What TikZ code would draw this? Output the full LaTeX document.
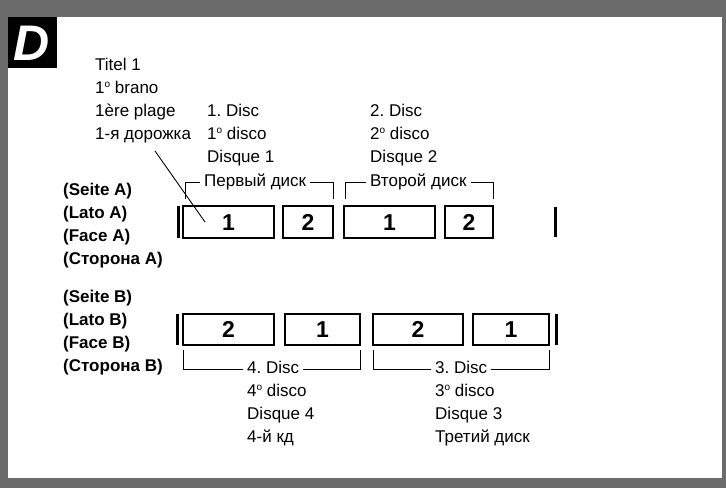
\documentclass[tikz,border=0pt]{standalone}
\usepackage{fontspec}
\setmainfont{Liberation Sans}
\frenchspacing
\newcommand\supo{\raisebox{0.62ex}{\fontsize{10}{10}\selectfont o}}
\begin{document}
\begin{tikzpicture}[x=1pt,y=-1pt,
  lbl/.style={anchor=base west, inner sep=0pt, font=\fontsize{17}{20}\selectfont},
  side/.style={anchor=base west, inner sep=0pt, font=\fontsize{17}{20}\selectfont\bfseries},
  trk/.style={draw, line width=1.1pt, inner sep=0pt, text height=16.5pt, text depth=0pt,
    font=\fontsize{23}{26}\selectfont\bfseries},
  bar/.style={line width=3pt},
  brk/.style={line width=0.9pt},
  frame/.style={fill=black!58}]
\useasboundingbox (0,0) rectangle (726,488);
% stippled frame
\fill[frame] (0,0) rectangle (726,17);
\fill[frame] (0,0) rectangle (8,488);
\fill[frame] (0,478) rectangle (726,488);
\fill[frame] (722,0) rectangle (726,488);
% D badge
\fill[black] (8,17) rectangle (57,68);
\node[text=white, inner sep=0pt, font=\fontsize{50}{52}\selectfont\bfseries\itshape] (badge) at (32,43.5) {D};
% left column (track)
\node[lbl] (t1) at (95,70) {Titel 1};
\node[lbl] (t2) at (95,93) {1\supo\ brano};
\node[lbl] (t3) at (95,116) {1ère plage};
\node[lbl] (t4) at (95,139) {1-я дорожка};
% disc 1 column
\node[lbl] (d1a) at (207,116) {1. Disc};
\node[lbl] (d1b) at (207,139) {1\supo\ disco};
\node[lbl] (d1c) at (207,162) {Disque 1};
\node[lbl] (d1d) at (204,186) {Первый диск};
% disc 2 column
\node[lbl] (d2a) at (370,116) {2. Disc};
\node[lbl] (d2b) at (370,139) {2\supo\ disco};
\node[lbl] (d2c) at (370,162) {Disque 2};
\node[lbl] (d2d) at (370,186) {Второй диск};
% side labels
\node[side] (sa1) at (63,195) {(Seite A)};
\node[side] (sa2) at (63,218) {(Lato A)};
\node[side] (sa3) at (63,241) {(Face A)};
\node[side] (sa4) at (63,264) {(Сторона A)};
\node[side] (sb1) at (63,302) {(Seite B)};
\node[side] (sb2) at (63,325) {(Lato B)};
\node[side] (sb3) at (63,348) {(Face B)};
\node[side] (sb4) at (63,371) {(Сторона B)};
% side A boxes
\node[trk, minimum width=91pt, minimum height=32pt] (a1) at (228.5,222) {1};
\node[trk, minimum width=50pt, minimum height=32pt] (a2) at (308,222) {2};
\node[trk, minimum width=91pt, minimum height=32pt] (a3) at (389.5,222) {1};
\node[trk, minimum width=48pt, minimum height=32pt] (a4) at (469,222) {2};
\draw[bar] (178,206) -- (178,238);
\draw[bar] (555,207) -- (555,237);
% side B boxes
\node[trk, minimum width=91pt, minimum height=31pt] (b1) at (228.5,329.5) {2};
\node[trk, minimum width=75pt, minimum height=31pt] (b2) at (322.5,329.5) {1};
\node[trk, minimum width=90pt, minimum height=31pt] (b3) at (418,329.5) {2};
\node[trk, minimum width=76pt, minimum height=31pt] (b4) at (511,329.5) {1};
\draw[bar] (177,314) -- (177,345);
\draw[bar] (556,314) -- (556,345);
% top brackets
\coordinate (k1l) at (185,199);
\coordinate (k1r) at (333,199);
\coordinate (k2l) at (345,199);
\coordinate (k2r) at (493,199);
\draw[brk] (k1l) |- ([xshift=-4pt,yshift=4pt]d1d.base west);
\draw[brk] (k1r) |- ([xshift=4pt,yshift=4pt]d1d.base east);
\draw[brk] (k2l) |- ([xshift=-4pt,yshift=4pt]d2d.base west);
\draw[brk] (k2r) |- ([xshift=4pt,yshift=4pt]d2d.base east);
% bottom columns
\node[lbl] (d4a) at (247,373) {4. Disc};
\node[lbl] (d4b) at (247,396) {4\supo\ disco};
\node[lbl] (d4c) at (247,419) {Disque 4};
\node[lbl] (d4d) at (247,442) {4-й кд};
\node[lbl] (d3a) at (435,373) {3. Disc};
\node[lbl] (d3b) at (435,396) {3\supo\ disco};
\node[lbl] (d3c) at (435,419) {Disque 3};
\node[lbl] (d3d) at (435,442) {Третий диск};
% bottom brackets
\coordinate (k4l) at (183,350);
\coordinate (k4r) at (360,350);
\coordinate (k3l) at (373,350);
\coordinate (k3r) at (549,350);
\draw[brk] (k4l) |- ([xshift=-4pt,yshift=4pt]d4a.base west);
\draw[brk] (k4r) |- ([xshift=4pt,yshift=4pt]d4a.base east);
\draw[brk] (k3l) |- ([xshift=-4pt,yshift=4pt]d3a.base west);
\draw[brk] (k3r) |- ([xshift=4pt,yshift=4pt]d3a.base east);
% leader
\coordinate (ld) at (155,151);
\coordinate (lt) at (205,222);
\draw[line width=0.9pt] (ld) -- (lt);
\end{tikzpicture}
\end{document}
